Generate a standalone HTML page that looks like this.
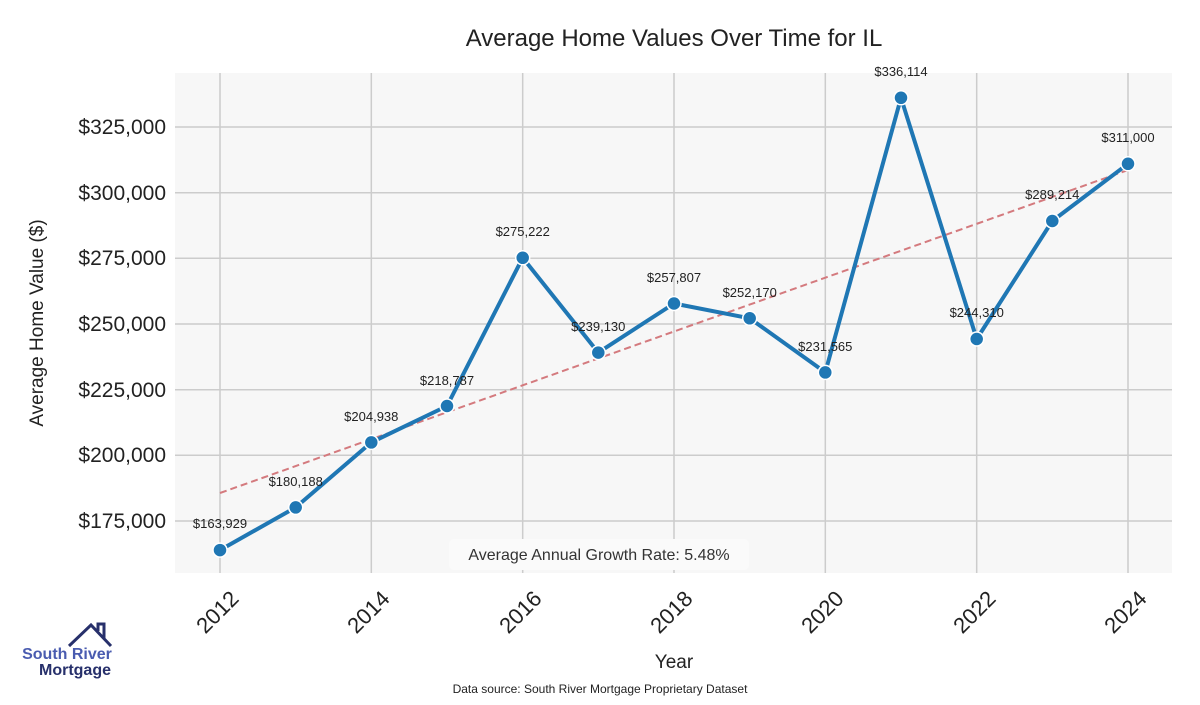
<!DOCTYPE html><html><head><style>body{margin:0;background:#fff}svg text{font-family:"Liberation Sans",sans-serif}</style></head><body>
<svg width="1200" height="700" xmlns="http://www.w3.org/2000/svg">
<rect x="175" y="73" width="997" height="500" fill="#f7f7f7"/>
<g stroke="#cccccc" stroke-width="1.5">
<line x1="175" x2="1172" y1="521" y2="521"/><line x1="175" x2="1172" y1="455.3" y2="455.3"/><line x1="175" x2="1172" y1="389.7" y2="389.7"/><line x1="175" x2="1172" y1="324" y2="324"/><line x1="175" x2="1172" y1="258.3" y2="258.3"/><line x1="175" x2="1172" y1="192.7" y2="192.7"/><line x1="175" x2="1172" y1="127" y2="127"/>
<line x1="220" x2="220" y1="73" y2="573"/><line x1="371.3" x2="371.3" y1="73" y2="573"/><line x1="522.7" x2="522.7" y1="73" y2="573"/><line x1="674" x2="674" y1="73" y2="573"/><line x1="825.3" x2="825.3" y1="73" y2="573"/><line x1="976.7" x2="976.7" y1="73" y2="573"/><line x1="1128" x2="1128" y1="73" y2="573"/>
</g>
<line x1="220" y1="493" x2="1128" y2="170" stroke="#d47a7e" stroke-width="2" stroke-dasharray="7,4"/>
<polyline fill="none" stroke="#1f77b4" stroke-width="4" stroke-linejoin="round" points="220,550.1 295.7,507.4 371.3,442.4 447,406 522.7,257.8 598.3,352.6 674,303.5 749.7,318.3 825.3,372.4 901,97.8 976.7,339 1052.3,221 1128,163.8"/>
<g fill="#1f77b4" stroke="#fff" stroke-width="1.5">
<circle cx="220" cy="550.1" r="7"/><circle cx="295.7" cy="507.4" r="7"/><circle cx="371.3" cy="442.4" r="7"/><circle cx="447" cy="406" r="7"/><circle cx="522.7" cy="257.8" r="7"/><circle cx="598.3" cy="352.6" r="7"/><circle cx="674" cy="303.5" r="7"/><circle cx="749.7" cy="318.3" r="7"/><circle cx="825.3" cy="372.4" r="7"/><circle cx="901" cy="97.8" r="7"/><circle cx="976.7" cy="339" r="7"/><circle cx="1052.3" cy="221" r="7"/><circle cx="1128" cy="163.8" r="7"/>
</g>
<g font-size="13" fill="#222" text-anchor="middle">
<text x="220" y="528">$163,929</text><text x="295.7" y="486">$180,188</text><text x="371.3" y="421">$204,938</text><text x="447" y="385">$218,787</text><text x="522.7" y="236">$275,222</text><text x="598.3" y="331">$239,130</text><text x="674" y="282">$257,807</text><text x="749.7" y="297">$252,170</text><text x="825.3" y="351">$231,565</text><text x="901" y="76">$336,114</text><text x="976.7" y="317">$244,310</text><text x="1052.3" y="199">$289,214</text><text x="1128" y="142">$311,000</text>
</g>
<rect x="449" y="539" width="300" height="31" rx="5" fill="#fafafa"/>
<text x="599" y="560" font-size="16" fill="#333" text-anchor="middle">Average Annual Growth Rate: 5.48%</text>
<g font-size="21" fill="#222" text-anchor="end">
<text x="166" y="528">$175,000</text><text x="166" y="462">$200,000</text><text x="166" y="397">$225,000</text><text x="166" y="331">$250,000</text><text x="166" y="265">$275,000</text><text x="166" y="200">$300,000</text><text x="166" y="134">$325,000</text>
</g>
<g font-size="22" fill="#222" text-anchor="end">
<text transform="translate(240,600) rotate(-45)">2012</text><text transform="translate(391,600) rotate(-45)">2014</text><text transform="translate(543,600) rotate(-45)">2016</text><text transform="translate(694,600) rotate(-45)">2018</text><text transform="translate(845,600) rotate(-45)">2020</text><text transform="translate(997,600) rotate(-45)">2022</text><text transform="translate(1148,600) rotate(-45)">2024</text>
</g>
<text x="674" y="46" font-size="24" fill="#222" text-anchor="middle">Average Home Values Over Time for IL</text>
<text x="674" y="668" font-size="19" fill="#222" text-anchor="middle">Year</text>
<text transform="translate(43,323) rotate(-90)" font-size="19" fill="#222" text-anchor="middle">Average Home Value ($)</text>
<text x="600" y="693" font-size="12" fill="#222" text-anchor="middle">Data source: South River Mortgage Proprietary Dataset</text>
<polyline points="69,646 91,625 111,646" fill="none" stroke="#27306b" stroke-width="3"/>
<polyline points="98,631 98,624 104,624 104,639" fill="none" stroke="#27306b" stroke-width="3"/>
<text x="67" y="659" font-size="16" font-weight="bold" fill="#4a5cb0" text-anchor="middle">South River</text>
<text x="75" y="675" font-size="16" font-weight="bold" fill="#27306b" text-anchor="middle">Mortgage</text>
</svg>
</body></html>
